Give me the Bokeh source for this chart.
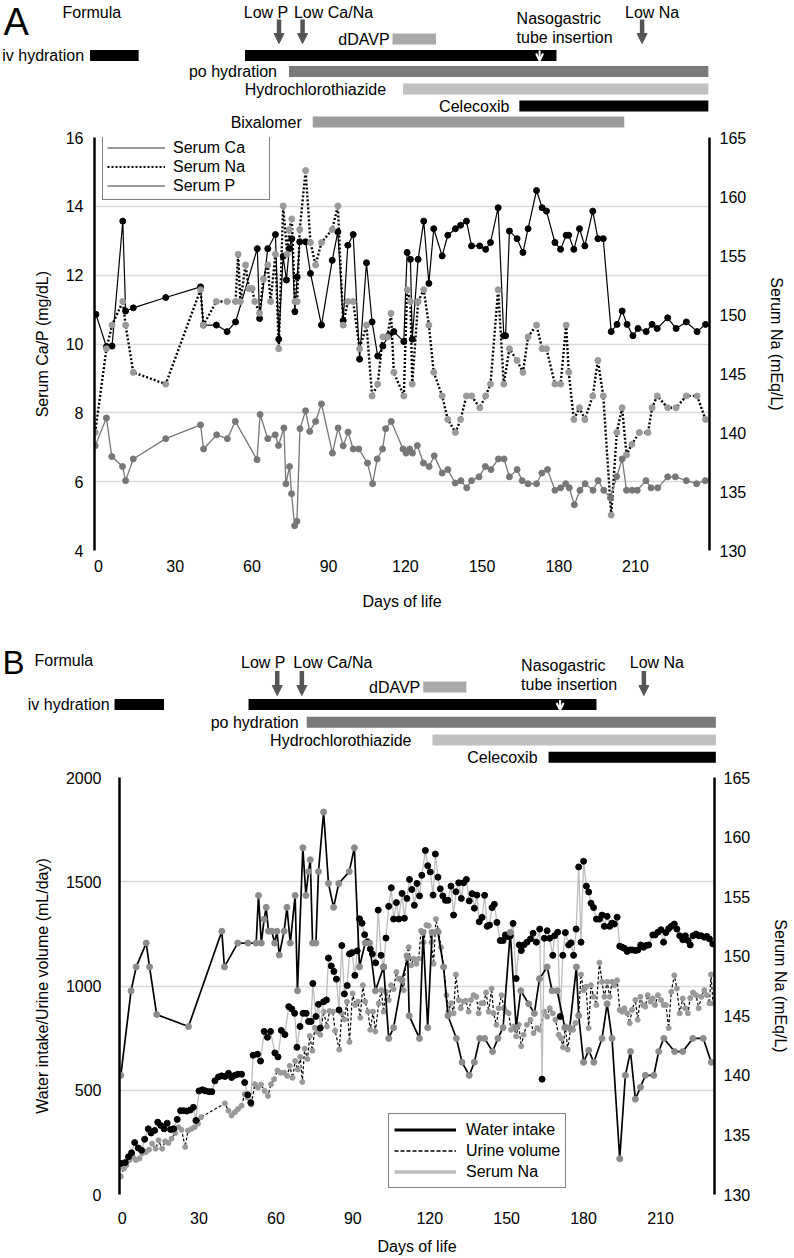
from bokeh.plotting import figure
from bokeh.models import (Range1d, LinearAxis, FixedTicker, Legend, LegendItem,
                          Label, Arrow, NormalHead, OpenHead, ColumnDataSource)
from bokeh.layouts import column
from bokeh.embed import file_html
from bokeh.resources import INLINE

FONT = "Liberation Sans"
NAN = float("nan")

# ======================= DATA =======================
day_ticks = [0, 30, 60, 90, 120, 150, 180, 210]
ca_p_ticks = [4, 6, 8, 10, 12, 14, 16]
na_ticks = [130, 135, 140, 145, 150, 155, 160, 165]
vol_ticks = [0, 500, 1000, 1500, 2000]

# ---- Panel A (day, value) ----
serum_ca_A = [(-1.0,10.86),(3.1,9.92),(5.3,9.94),(9.5,13.57),(10.6,10.96),(13.6,11.05),(26.3,11.35),(39.9,11.66),(41.0,10.55),(46.1,10.55),(50.3,10.36),(53.6,10.64),(62.1,12.77),(63.0,10.74),(66.2,12.77),(69.2,13.18),(70.5,10.14),(72.2,12.55),(73.5,11.86),(74.6,12.77),(75.6,13.06),(76.8,10.94),(77.7,11.95),(78.7,12.97),(81.0,12.97),(82.9,12.05),(87.2,10.55),(91.4,12.43),(93.6,13.26),(95.7,10.68),(97.5,12.87),(99.6,13.18),(102.1,9.56),(104.8,12.36),(107.0,10.64),(109.2,9.65),(111.2,9.94),(113.5,10.25),(115.5,10.36),(119.4,10.07),(120.7,12.66),(122.0,12.46),(122.7,10.14),(125.0,12.46),(127.2,13.57),(129.2,11.76),(131.1,13.35),(134.4,12.56),(136.6,13.16),(139.6,13.35),(141.6,13.45),(143.9,13.57),(145.9,12.85),(149.1,12.85),(151.4,12.75),(153.3,12.95),(156.3,13.96),(158.5,10.24),(159.2,10.24),(160.7,13.28),(163.7,13.06),(166.0,12.66),(168.0,13.35),(171.3,14.46),(173.5,13.96),(175.2,13.86),(178.5,12.95),(180.7,12.75),(182.9,13.16),(183.9,13.16),(185.9,12.75),(188.1,13.35),(190.2,12.85),(193.3,13.86),(195.3,13.06),(197.4,13.06),(200.5,10.36),(202.8,10.57),(204.8,10.96),(206.7,10.57),(209.0,10.24),(211.0,10.45),(214.2,10.36),(216.5,10.57),(218.5,10.45),(222.6,10.76),(225.9,10.45),(229.9,10.64),(234.1,10.36),(237.4,10.57)]

serum_na_A = [(-1.3,140.0),(3.1,147.1),(5.3,149.1),(9.5,151.1),(10.6,149.1),(13.6,145.1),(26.3,144.1),(39.9,152.1),(41.0,149.1),(46.1,151.1),(50.3,151.1),(53.6,151.1),(54.6,155.1),(55.5,151.1),(57.5,154.2),(58.8,152.2),(60.1,152.2),(61.1,151.1),(63.0,150.1),(64.5,153.0),(66.2,154.2),(67.3,151.1),(69.2,155.1),(70.5,147.1),(72.2,159.2),(73.8,155.1),(74.6,157.2),(75.6,158.1),(76.8,151.1),(77.7,151.1),(78.7,157.2),(81.0,162.2),(82.9,156.1),(84.9,154.2),(87.2,156.1),(91.4,157.2),(93.6,159.2),(95.7,149.1),(97.5,151.1),(99.6,151.1),(102.1,147.1),(104.8,149.1),(107.0,143.1),(109.2,144.1),(111.2,148.1),(113.0,148.1),(114.4,150.1),(115.5,145.1),(119.4,143.1),(120.7,152.1),(122.0,151.1),(122.7,144.1),(125.0,151.1),(127.2,152.1),(129.2,149.1),(131.1,145.1),(134.4,143.1),(136.6,141.1),(139.6,140.0),(141.6,141.1),(143.9,143.1),(145.9,143.1),(149.1,142.1),(151.4,143.1),(153.3,144.1),(156.3,152.1),(158.5,144.1),(160.7,147.1),(163.7,146.1),(166.0,145.1),(168.0,148.1),(171.3,149.1),(173.5,147.1),(175.2,147.1),(178.5,144.1),(180.7,144.1),(182.9,149.1),(183.9,145.1),(185.9,141.1),(188.1,142.1),(190.2,141.1),(193.3,143.1),(195.3,146.1),(197.4,143.1),(200.5,133.0),(202.7,140.0),(204.8,142.1),(206.5,138.1),(208.6,139.0),(211.5,140.0),(214.9,140.0),(216.5,142.1),(218.5,143.1),(222.6,142.1),(225.9,142.1),(229.9,143.1),(234.1,143.1),(237.4,141.1)]

serum_p_A = [(-1.3,7.04),(3.1,7.85),(5.2,6.73),(9.4,6.44),(10.6,6.03),(13.6,6.66),(26.3,7.25),(39.9,7.65),(41.1,6.95),(46.2,7.36),(50.4,7.25),(53.5,7.75),(62.0,6.64),(63.2,7.95),(66.2,7.25),(69.1,7.36),(70.4,7.05),(72.5,7.56),(73.3,5.94),(74.7,6.44),(75.5,5.65),(76.7,4.72),(77.6,4.85),(78.8,7.54),(81.0,8.06),(82.6,7.46),(84.9,7.75),(87.2,8.26),(91.5,6.83),(93.7,7.56),(95.7,7.04),(97.6,7.44),(99.6,6.95),(101.8,6.95),(105.2,6.54),(107.2,5.94),(109.0,6.66),(111.1,6.95),(112.3,7.54),(114.5,7.75),(119.1,6.95),(120.3,6.83),(121.7,6.95),(122.8,6.83),(124.7,7.05),(127.1,6.54),(129.3,6.44),(131.3,6.75),(134.4,6.25),(136.6,6.35),(139.5,5.96),(141.7,6.03),(144.0,5.82),(145.9,6.03),(148.8,6.14),(151.3,6.44),(153.5,6.35),(156.4,6.66),(158.6,6.66),(160.7,6.14),(163.7,6.35),(165.7,6.03),(168.0,5.94),(171.3,5.94),(173.4,6.25),(175.6,6.35),(178.5,5.75),(180.7,5.82),(182.7,5.94),(184.1,5.82),(186.1,5.33),(188.3,5.75),(190.3,5.94),(193.4,5.75),(195.4,6.03),(197.6,5.75),(200.2,5.53),(202.7,6.15),(204.8,6.66),(206.5,5.75),(208.7,5.75),(210.7,5.75),(214.1,6.03),(216.1,5.82),(218.7,5.82),(222.6,6.14),(225.6,6.14),(229.9,6.03),(233.9,5.94),(237.3,6.03)]

# treatments, panel A: (start day, end day)
iv_hydration_A = [(-3.3, 15.7), (57.3, 179.1)]
ddavp_A = [(115.0, 132.0)]
po_hydration_A = [(74.5, 238.5)]
hctz_A = [(119.1, 238.5)]
celecoxib_A = [(164.6, 238.5)]
bixalomer_A = [(83.8, 205.6)]
formula_events = ["Low P", "Low Ca/Na", "Low Na"]
formula_event_days_A = [70.6, 79.8, 212.6]
ng_tube_day_A = 172.5

# ---- Panel B (day, value) ----
serum_na_B = [(-0.5,140.0),(3.5,147.1),(5.5,149.1),(9.4,151.1),(10.7,149.1),(13.5,145.1),(25.9,144.1),(38.9,152.1),(39.9,149.1),(45.1,151.1),(49.1,151.1),(52.3,151.1),(53.2,155.1),(54.3,151.1),(55.4,153.1),(56.2,154.1),(57.1,152.1),(58.4,152.1),(59.5,151.1),(60.4,152.1),(61.3,150.1),(63.2,152.1),(64.3,154.1),(65.6,151.1),(67.5,155.1),(68.4,147.1),(70.5,159.1),(71.7,155.1),(72.7,157.1),(73.4,158.1),(74.3,151.1),(75.6,151.1),(76.6,157.1),(78.6,162.1),(80.5,156.1),(82.5,154.1),(84.5,156.1),(88.6,157.1),(90.6,159.1),(92.6,149.1),(94.8,151.1),(96.5,151.1),(98.8,147.1),(102.0,149.1),(104.0,143.1),(105.9,144.0),(109.2,148.0),(111.4,149.9),(112.0,145.0),(116.0,143.1),(117.4,152.0),(119.2,144.0),(120.9,152.0),(123.1,152.1),(125.4,149.1),(127.1,145.0),(130.4,143.1),(132.6,141.1),(135.4,140.0),(137.4,141.1),(139.5,143.1),(141.4,143.1),(144.5,142.0),(146.6,143.1),(148.6,144.0),(151.4,152.0),(153.7,144.0),(155.5,147.1),(158.6,146.0),(160.8,145.2),(162.8,148.1),(165.8,149.1),(167.7,147.1),(169.7,147.1),(172.7,144.0),(174.6,144.0),(177.2,149.1),(178.1,145.0),(180.0,141.1),(182.0,142.1),(184.0,141.1),(187.2,143.1),(189.2,146.0),(191.1,143.1),(194.1,133.0),(196.3,140.0),(198.3,142.0),(200.2,138.0),(202.2,139.0),(204.1,140.0),(207.4,140.0),(209.3,142.0),(211.3,143.1),(215.5,142.0),(218.7,142.0),(222.6,143.1),(226.7,143.1),(229.8,141.1)]

water_intake_B = [(-0.5,149),(1.2,153),(2.5,181),(3.7,200),(4.9,249),(6.3,223),(7.6,212),(8.8,265),(10.2,315),(11.3,295),(12.7,307),(13.9,347),(15.1,331),(16.4,315),(17.6,342),(18.9,312),(20.1,315),(21.5,360),(22.8,402),(24.0,402),(25.2,400),(26.6,405),(27.8,418),(28.8,355),(30.0,497),(31.3,502),(32.5,497),(33.9,493),(35.0,493),(36.2,545),(37.6,564),(38.8,569),(40.1,566),(41.5,581),(42.7,561),(44.0,572),(45.2,577),(46.6,577),(47.8,537),(49.0,478),(50.2,440),(51.1,668),(52.8,673),(54.0,640),(55.4,782),(56.7,754),(57.9,782),(59.6,679),(60.8,660),(62.1,787),(63.5,767),(65.0,901),(66.2,890),(67.3,869),(68.2,706),(69.4,806),(70.6,869),(71.8,869),(72.7,830),(73.7,830),(74.4,1012),(75.6,854),(76.6,912),(77.3,798),(78.6,925),(79.7,933),(80.5,1134),(81.6,1096),(82.6,1070),(83.6,1033),(84.6,885),(85.7,1194),(86.7,962),(87.8,1002),(88.7,1154),(89.7,1160),(90.8,1051),(91.7,1168),(92.6,1322),(93.6,1301),(94.6,1246),(95.7,1212),(96.8,1178),(97.6,1154),(98.9,1111),(99.9,1364),(101.0,1147),(102.0,1091),(102.9,1230),(104.0,1382),(105.0,1471),(105.9,1321),(107.0,1400),(107.9,1321),(109.2,1444),(110.1,1325),(111.1,1420),(112.1,1511),(113.0,1463),(114.0,1387),(115.0,1492),(116.0,1432),(116.9,1531),(118.3,1650),(119.2,1577),(120.2,1547),(121.3,1436),(122.2,1633),(123.2,1522),(124.1,1466),(125.1,1432),(126.1,1411),(127.1,1411),(128.3,1479),(129.3,1340),(130.2,1452),(131.3,1495),(132.3,1420),(133.2,1495),(134.3,1511),(135.4,1408),(136.5,1443),(137.4,1373),(138.4,1436),(139.3,1308),(140.4,1329),(141.4,1435),(142.4,1286),(143.3,1292),(144.3,1376),(145.2,1392),(146.2,1305),(147.5,1218),(148.6,1218),(149.5,1245),(150.5,1237),(151.4,1240),(152.5,1300),(153.7,1036),(154.9,1197),(155.7,1170),(156.7,1197),(157.9,1210),(159.3,1226),(160.3,1253),(161.6,1210),(162.9,1273),(163.8,553),(164.7,1229),(165.8,1265),(166.8,1229),(168.0,1147),(168.7,1241),(169.9,1258),(170.9,854),(171.9,1147),(172.9,1256),(174.2,1197),(175.1,1207),(176.1,1147),(177.1,1273),(178.1,1571),(179.0,1210),(180.0,1598),(181.1,1479),(182.0,1451),(182.9,1397),(183.9,1376),(185.0,1321),(186.2,1321),(187.2,1340),(188.1,1286),(189.2,1334),(190.2,1286),(191.1,1302),(192.0,1297),(193.1,1330),(194.1,1191),(195.0,1186),(195.9,1181),(197.0,1166),(198.0,1173),(198.9,1173),(200.2,1170),(201.2,1173),(202.3,1197),(203.4,1186),(204.4,1194),(205.4,1197),(207.0,1245),(207.9,1245),(209.0,1258),(210.2,1270),(211.2,1210),(212.1,1256),(213.2,1275),(214.2,1286),(215.4,1297),(216.4,1273),(217.5,1241),(218.7,1222),(219.7,1241),(220.7,1218),(221.6,1197),(222.7,1241),(223.9,1249),(224.9,1241),(225.9,1241),(227.1,1234),(228.1,1238),(229.1,1226),(230.4,1202)]

urine_volume_B = [(-0.5,86),(0.7,125),(1.7,141),(2.9,165),(4.2,181),(5.4,165),(6.8,173),(7.9,198),(9.3,204),(10.5,215),(11.7,244),(13.1,220),(14.2,260),(15.6,220),(16.8,255),(18.1,247),(19.3,268),(20.7,295),(21.9,323),(23.2,310),(24.6,228),(25.7,307),(27.1,315),(28.3,323),(29.6,340),(30.8,371),(40.1,437),(41.5,402),(42.7,379),(44.0,395),(45.2,410),(46.6,426),(47.8,481),(49.0,465),(50.4,431),(51.8,529),(53.0,513),(54.2,527),(55.6,497),(56.9,473),(58.1,529),(59.3,553),(60.6,595),(61.8,584),(63.2,584),(64.4,569),(65.4,617),(66.5,560),(67.5,640),(68.5,600),(69.5,660),(70.3,540),(71.2,700),(72.3,650),(73.2,760),(74.2,690),(75.2,800),(76.2,780),(77.3,766),(78.6,877),(79.9,806),(80.9,880),(82.2,877),(83.1,785),(84.7,695),(85.7,869),(86.7,840),(87.7,925),(88.7,732),(89.9,964),(90.9,909),(92.0,925),(92.9,848),(93.9,1004),(94.8,925),(95.9,877),(96.8,790),(97.9,877),(98.8,782),(100.1,917),(101.1,980),(102.0,877),(102.9,972),(104.0,933),(104.9,1004),(105.9,985),(107.0,1067),(107.9,1035),(108.8,1035),(109.8,980),(110.9,1147),(111.8,1186),(112.7,1099),(113.7,1131),(114.8,1107),(115.7,1131),(116.6,1265),(117.6,1210),(118.7,1292),(119.6,1289),(120.6,1210),(121.5,1107),(122.4,1321),(123.5,1258),(124.4,1186),(125.4,1091),(126.5,956),(127.3,877),(128.3,917),(129.3,869),(130.2,1055),(131.3,933),(132.1,893),(133.2,925),(134.1,929),(135.2,877),(136.1,933),(137.1,956),(138.2,948),(139.1,869),(140.1,917),(141.0,917),(142.0,969),(143.0,877),(144.1,988),(144.9,869),(146.0,814),(146.9,893),(148.0,956),(148.9,893),(149.8,877),(150.8,869),(151.7,790),(152.8,806),(153.7,759),(154.7,814),(155.7,711),(156.6,766),(157.9,814),(159.3,838),(160.5,774),(161.9,798),(162.9,790),(164.7,877),(165.8,853),(166.8,893),(168.0,869),(169.0,838),(170.3,766),(171.2,750),(172.0,706),(172.9,806),(173.8,695),(174.9,790),(175.9,790),(176.8,822),(178.1,861),(179.0,1055),(180.0,980),(181.0,996),(182.0,798),(182.9,1004),(183.9,948),(185.0,909),(186.2,1112),(187.2,1020),(188.1,948),(189.2,1020),(190.2,948),(191.1,1020),(192.0,1004),(193.1,1027),(194.1,885),(195.0,877),(195.9,893),(197.0,869),(198.0,822),(198.9,885),(200.2,933),(201.1,838),(202.2,948),(203.2,909),(204.1,901),(205.0,956),(206.1,925),(207.0,940),(207.9,909),(209.0,956),(210.2,933),(211.2,909),(212.1,909),(213.2,798),(214.2,972),(215.4,1051),(216.4,988),(217.5,869),(218.7,940),(219.7,893),(220.7,869),(221.6,942),(222.7,969),(223.9,956),(224.9,893),(225.9,948),(227.1,980),(228.1,956),(229.1,917),(229.7,1055),(230.5,917)]

# treatments, panel B
iv_hydration_B = [(-3.1, 16.2), (49.2, 185.0)]
ddavp_B = [(117.4, 134.2)]
po_hydration_B = [(71.9, 231.6)]
hctz_B = [(121.0, 231.6)]
celecoxib_B = [(166.3, 231.6)]
formula_event_days_B = [60.4, 70.0, 203.5]
ng_tube_day_B = 170.8

# ======================= LAYOUT CONSTANTS =======================
W = 794                     # page has no margin: figures span the full width
A_X0, A_PPD = 98.0, 2.557   # page x of day 0, px per day (panel A)
B_X0, B_PPD = 122.0, 2.562  # panel B

def xs(pairs): return [a for a, b in pairs]
def ys(pairs): return [b for a, b in pairs]

def annot_fig(x0, ppd, y_top, y_bot):
    p = figure(width=W, height=int(y_bot - y_top),
               x_range=Range1d((0 - x0) / ppd, (W - x0) / ppd),
               y_range=Range1d(start=y_bot, end=y_top),
               toolbar_location=None, output_backend="svg",
               x_axis_location=None, y_axis_location=None,
               min_border=0, min_border_left=0, min_border_right=0,
               min_border_top=0, min_border_bottom=0,
               outline_line_color=None, frame_align=False)
    p.grid.visible = False
    return p

def lab(p, x, y, text, align="left", xoff=0, size="16px", xunits="data"):
    p.add_layout(Label(x=x, y=y, x_units=xunits, text=text, text_align=align,
                       text_baseline="middle", x_offset=xoff, text_font=FONT,
                       text_font_size=size, text_color="black"))

def bar(p, spans, yc, color, h=11):
    src = ColumnDataSource(dict(left=[s for s, e in spans], right=[e for s, e in spans],
                                y=[yc] * len(spans)))
    p.hbar(y="y", left="left", right="right", height=h, source=src,
           fill_color=color, line_color=None)

def down_arrow(p, d, y0, y1):
    p.add_layout(Arrow(x_start=d, y_start=y0, x_end=d, y_end=y1, line_width=4.5,
                       line_color="#555555",
                       end=NormalHead(size=10, fill_color="#555555", line_color="#555555")))

def ng_arrow(p, d, y0, y1):
    p.add_layout(Arrow(x_start=d, y_start=y0, x_end=d, y_end=y1, line_width=2,
                       line_color="white",
                       end=OpenHead(size=7, line_color="white", line_width=2)))

C_PO, C_HCTZ, C_BIX, C_DDAVP = "#7a7a7a", "#c0c0c0", "#9c9c9c", "#a9a9a9"

# ---------------- annotation A (page y 0..130) ----------------
aA = annot_fig(A_X0, A_PPD, 0, 130)
lab(aA, 3, 21, "A", size="38px", xunits="screen")
lab(aA, 62, 12, "Formula", xunits="screen")
for name, d, off in zip(formula_events, formula_event_days_A, [-13, 31, 10]):
    lab(aA, d, 12, name, align="center", xoff=off)
for d in formula_event_days_A:
    down_arrow(aA, d, 19, 43)
bar(aA, ddavp_A, 38.5, C_DDAVP)
lab(aA, ddavp_A[0][0], 38.5, "dDAVP", align="right", xoff=-3)
lab(aA, ng_tube_day_A, 18, "Nasogastric", xoff=-23)
lab(aA, ng_tube_day_A, 37, "tube insertion", xoff=-23)
bar(aA, iv_hydration_A, 55, "black")
lab(aA, iv_hydration_A[0][0], 55, "iv hydration", align="right", xoff=-6)
ng_arrow(aA, ng_tube_day_A, 50, 60)
bar(aA, po_hydration_A, 71, C_PO)
lab(aA, po_hydration_A[0][0], 71, "po hydration", align="right", xoff=-12)
bar(aA, hctz_A, 88.5, C_HCTZ)
lab(aA, hctz_A[0][0], 88.5, "Hydrochlorothiazide", align="right", xoff=-17)
bar(aA, celecoxib_A, 105.5, "black")
lab(aA, celecoxib_A[0][0], 105.5, "Celecoxib", align="right", xoff=-10)
bar(aA, bixalomer_A, 121.5, C_BIX)
lab(aA, bixalomer_A[0][0], 121.5, "Bixalomer", align="right", xoff=-11)

# ---------------- plot helpers ----------------
def style_axis(ax, standoff, label_standoff):
    ax.axis_line_color = "black"
    ax.axis_line_width = 2.5
    ax.major_tick_line_color = None
    ax.minor_tick_line_color = None
    ax.major_label_text_font = FONT
    ax.major_label_text_font_size = "16px"
    ax.major_label_text_color = "black"
    ax.major_label_standoff = standoff
    ax.axis_label_text_font = FONT
    ax.axis_label_text_font_size = "16px"
    ax.axis_label_text_font_style = "normal"
    ax.axis_label_text_color = "black"
    ax.axis_label_standoff = label_standoff

def make_plot(x0, ppd, left_px, right_px, y0, y1, yticks, ylabel, top, frame_h, bottom,
              l_st, l_lst, r_st, r_lst, b_st, b_lst):
    p = figure(width=W, height=top + frame_h + bottom,
               x_range=Range1d((left_px - x0) / ppd, (right_px - x0) / ppd),
               y_range=Range1d(y0, y1),
               toolbar_location=None, output_backend="svg",
               min_border_left=int(round(left_px)), min_border_right=int(round(W - right_px)),
               min_border_top=top, min_border_bottom=bottom,
               outline_line_color=None, frame_align=False)
    p.extra_y_ranges = {"na": Range1d(130, 165)}
    p.xgrid.visible = False
    p.ygrid.ticker = FixedTicker(ticks=yticks)
    p.ygrid.grid_line_color = "#dadada"
    p.ygrid.grid_line_width = 1.5
    ya = p.yaxis[0]
    ya.ticker = FixedTicker(ticks=yticks)
    ya.axis_label = ylabel
    style_axis(ya, l_st, l_lst)
    xa = p.xaxis[0]
    xa.ticker = FixedTicker(ticks=day_ticks)
    xa.axis_label = "Days of life"
    style_axis(xa, b_st, b_lst)
    xa.axis_line_color = None
    ra = LinearAxis(y_range_name="na", ticker=FixedTicker(ticks=na_ticks),
                    axis_label="Serum Na (mEq/L)")
    style_axis(ra, r_st, r_lst)
    p.add_layout(ra, "right")
    return p

# ---------------- plot A (page y 130..640, frame 137..550) ----------------
pA = make_plot(A_X0, A_PPD, 94, 709, 4, 16, ca_p_ticks, "Serum Ca/P (mg/dL)",
               7, 413, 90, 5, 12, 4, 19, 3, 18)
pA.line(xs(serum_ca_A), ys(serum_ca_A), line_color="black", line_width=1.2)
pA.scatter(xs(serum_ca_A), ys(serum_ca_A), size=6, fill_color="black", line_color="black")
pA.line(xs(serum_na_A), ys(serum_na_A), y_range_name="na", line_color="black",
        line_width=2.4, line_dash="2 2")
pA.scatter(xs(serum_na_A), ys(serum_na_A), y_range_name="na", size=6,
           fill_color="#9a9a9a", line_color="#9a9a9a")
pA.line(xs(serum_p_A), ys(serum_p_A), line_color="#777777", line_width=1.3)
pA.scatter(xs(serum_p_A), ys(serum_p_A), size=6, fill_color="#777777", line_color="#777777")

gA1 = pA.line([NAN, NAN], [NAN, NAN], line_color="#777777", line_width=1.3)
gA2 = pA.line([NAN, NAN], [NAN, NAN], line_color="black", line_width=2, line_dash="2 2")
gA3 = pA.line([NAN, NAN], [NAN, NAN], line_color="#777777", line_width=1.3)
legA = Legend(items=[LegendItem(label="Serum Ca", renderers=[gA1]),
                     LegendItem(label="Serum Na", renderers=[gA2]),
                     LegendItem(label="Serum P", renderers=[gA3])],
              location=(8, 350), border_line_color="black", border_line_width=1.5,
              background_fill_color="white", background_fill_alpha=1.0,
              label_text_font=FONT, label_text_font_size="16px", label_text_color="black",
              glyph_width=58, glyph_height=19, label_height=19, label_width=92,
              label_standoff=8, spacing=0, padding=4, margin=0)
pA.add_layout(legA)

# ---------------- annotation B (page y 640..770) ----------------
aB = annot_fig(B_X0, B_PPD, 640, 770)
lab(aB, 2, 662, "B", size="33px", xunits="screen")
lab(aB, 34, 660, "Formula", xunits="screen")
for name, d, off in zip(formula_events, formula_event_days_B, [-14, 31, 13]):
    lab(aB, d, 661.7, name, align="center", xoff=off)
for d in formula_event_days_B:
    down_arrow(aB, d, 670.5, 695)
bar(aB, ddavp_B, 686.5, C_DDAVP)
lab(aB, ddavp_B[0][0], 686.5, "dDAVP", align="right", xoff=-3)
lab(aB, ng_tube_day_B, 665, "Nasogastric", xoff=-39)
lab(aB, ng_tube_day_B, 684, "tube insertion", xoff=-39)
bar(aB, iv_hydration_B, 704, "black")
lab(aB, iv_hydration_B[0][0], 704, "iv hydration", align="right", xoff=-5)
ng_arrow(aB, ng_tube_day_B, 699.5, 709.5)
bar(aB, po_hydration_B, 721.7, C_PO)
lab(aB, po_hydration_B[0][0], 721.7, "po hydration", align="right", xoff=-8)
bar(aB, hctz_B, 739.5, C_HCTZ)
lab(aB, hctz_B[0][0], 739.5, "Hydrochlorothiazide", align="right", xoff=-21)
bar(aB, celecoxib_B, 756.7, "black")
lab(aB, celecoxib_B[0][0], 756.7, "Celecoxib", align="right", xoff=-11)

# ---------------- plot B (page y 770..1257, frame 777..1198) ----------------
pB = make_plot(B_X0, B_PPD, 119.4, 714, 0, 2000, vol_ticks,
               "Water intake/Urine volume (mL/day)",
               7, 421, 59, 12, 12, 3, 19, 11, 11)
pB.line(xs(urine_volume_B), ys(urine_volume_B), line_color="black", line_width=1.2,
        line_dash="3 2")
pB.scatter(xs(urine_volume_B), ys(urine_volume_B), size=5, fill_color="#999999",
           line_color="#999999")
pB.line(xs(water_intake_B), ys(water_intake_B), line_color="#bdbdbd", line_width=1.3)
pB.scatter(xs(water_intake_B), ys(water_intake_B), size=6, fill_color="black",
           line_color="black")
pB.line(xs(serum_na_B), ys(serum_na_B), y_range_name="na", line_color="black",
        line_width=1.7)
pB.scatter(xs(serum_na_B), ys(serum_na_B), y_range_name="na", size=6,
           fill_color="#8c8c8c", line_color="#8c8c8c")

gB1 = pB.line([NAN, NAN], [NAN, NAN], line_color="black", line_width=3)
gB2 = pB.line([NAN, NAN], [NAN, NAN], line_color="black", line_width=1.3, line_dash="4 2")
gB3 = pB.line([NAN, NAN], [NAN, NAN], line_color="#bdbdbd", line_width=3.5)
legB = Legend(items=[LegendItem(label="Water intake", renderers=[gB1]),
                     LegendItem(label="Urine volume", renderers=[gB2]),
                     LegendItem(label="Serum Na", renderers=[gB3])],
              location=(269, 6), border_line_color="black", border_line_width=1.5,
              background_fill_color="white", background_fill_alpha=1.0,
              label_text_font=FONT, label_text_font_size="16px", label_text_color="black",
              glyph_width=62, glyph_height=21, label_height=21, label_width=92,
              label_standoff=10, spacing=0, padding=5, margin=0)
pB.add_layout(legB)

layout = column(aA, pA, aB, pB, spacing=0)
open("out.html", "w").write(file_html(layout, INLINE))
